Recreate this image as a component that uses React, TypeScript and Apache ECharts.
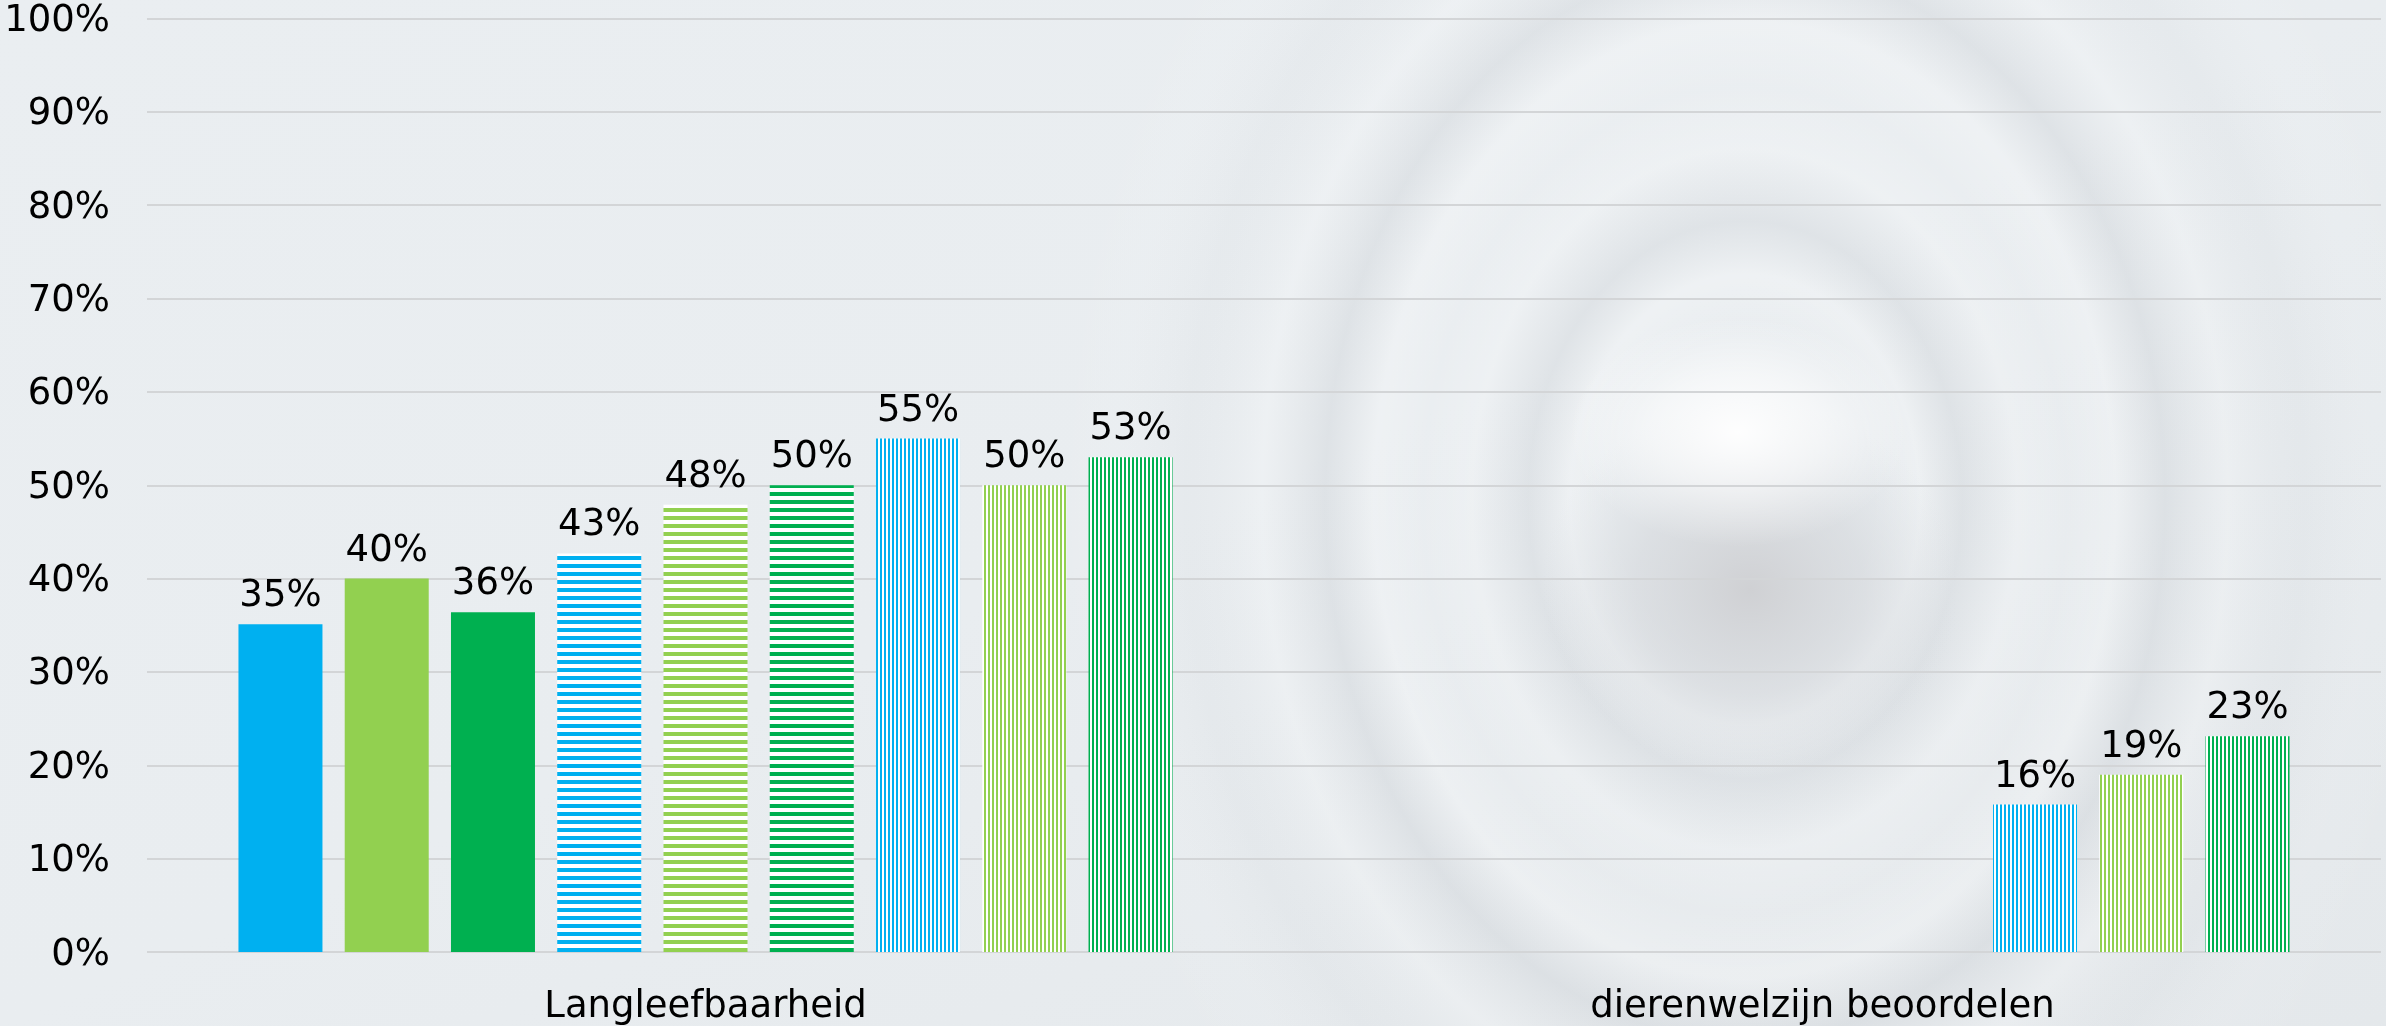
import React, { useEffect, useRef } from 'react';
import * as echarts from 'echarts';

const categories = ['Langleefbaarheid', 'dierenwelzijn beoordelen'];
const yTicks = [0, 10, 20, 30, 40, 50, 60, 70, 80, 90, 100];

const solidBlue = [35.1, null];
const solidLightGreen = [40.0, null];
const solidDarkGreen = [36.4, null];
const hStripeBlue = [42.7, null];
const hStripeLightGreen = [47.9, null];
const hStripeDarkGreen = [50.0, null];
const vStripeBlue = [55.0, 15.8];
const vStripeLightGreen = [50.0, 19.0];
const vStripeDarkGreen = [53.0, 23.1];

const BLUE = '#00B0F0';
const LIGHT_GREEN = '#92D050';
const DARK_GREEN = '#00B050';
const FONT = 'DejaVu Sans';

function hPattern(color: string) {
  const c = document.createElement('canvas');
  c.width = 4;
  c.height = 8;
  const ctx = c.getContext('2d')!;
  ctx.fillStyle = '#ffffff';
  ctx.fillRect(0, 0, 4, 8);
  ctx.fillStyle = color;
  ctx.fillRect(0, 4, 4, 4);
  return { image: c, repeat: 'repeat', imageWidth: 4, imageHeight: 8 };
}

function vPattern(color: string) {
  const c = document.createElement('canvas');
  c.width = 4;
  c.height = 4;
  const ctx = c.getContext('2d')!;
  ctx.fillStyle = '#ffffff';
  ctx.fillRect(0, 0, 4, 4);
  ctx.fillStyle = color;
  ctx.fillRect(0, 0, 2, 4);
  return { image: c, repeat: 'repeat', imageWidth: 4, imageHeight: 4 };
}

export default function App() {
  const ref = useRef<HTMLDivElement>(null);
  useEffect(() => {
    const el = ref.current!;
    const chart = echarts.init(el, null, { renderer: 'svg' });

    const mk = (name: string, data: (number | null)[], color: any) => ({
      name,
      type: 'bar',
      data,
      barWidth: 84,
      barGap: '26.5%',
      itemStyle: { color },
      label: {
        show: true,
        position: 'top',
        distance: 12,
        fontFamily: FONT,
        fontSize: 37,
        color: '#000',
        formatter: (p: any) => (p.value == null ? '' : Math.round(p.value) + '%'),
      },
    });

    const ringStops = [
      { offset: 0, color: 'rgba(255,255,255,0)' },
      { offset: 0.18, color: 'rgba(255,255,255,0)' },
      { offset: 0.25, color: 'rgba(255,255,255,0.25)' },
      { offset: 0.31, color: 'rgba(188,193,199,0.22)' },
      { offset: 0.39, color: 'rgba(255,255,255,0.22)' },
      { offset: 0.46, color: 'rgba(255,255,255,0.06)' },
      { offset: 0.53, color: 'rgba(255,255,255,0.25)' },
      { offset: 0.6, color: 'rgba(188,193,199,0.24)' },
      { offset: 0.69, color: 'rgba(255,255,255,0.2)' },
      { offset: 0.8, color: 'rgba(200,205,210,0.1)' },
      { offset: 0.9, color: 'rgba(255,255,255,0.06)' },
      { offset: 1, color: 'rgba(255,255,255,0)' },
    ];

    chart.setOption({
      animation: false,
      graphic: {
        elements: [
          {
            type: 'rect',
            z: -10,
            silent: true,
            shape: { x: 0, y: 0, width: 2386, height: 1026 },
            style: {
              fill: {
                type: 'linear',
                x: 0,
                y: 0,
                x2: 1,
                y2: 1,
                colorStops: [
                  { offset: 0, color: '#eaeef1' },
                  { offset: 0.5, color: '#e9edf0' },
                  { offset: 1, color: '#e4e8eb' },
                ],
              },
            },
          },
          {
            type: 'ellipse',
            z: -9,
            silent: true,
            shape: { cx: 1745, cy: 500, rx: 700, ry: 900 },
            style: {
              fill: { type: 'radial', x: 0.5, y: 0.5, r: 0.5, colorStops: ringStops },
            },
          },
          {
            type: 'ellipse',
            z: -8,
            silent: true,
            shape: { cx: 1750, cy: 590, rx: 210, ry: 190 },
            style: {
              fill: {
                type: 'radial',
                x: 0.5,
                y: 0.5,
                r: 0.5,
                colorStops: [
                  { offset: 0, color: 'rgba(206,207,210,0.95)' },
                  { offset: 0.55, color: 'rgba(212,215,219,0.6)' },
                  { offset: 1, color: 'rgba(220,224,228,0)' },
                ],
              },
            },
          },
          {
            type: 'ellipse',
            z: -7,
            silent: true,
            shape: { cx: 1738, cy: 432, rx: 170, ry: 115 },
            style: {
              fill: {
                type: 'radial',
                x: 0.5,
                y: 0.5,
                r: 0.5,
                colorStops: [
                  { offset: 0, color: 'rgba(255,255,255,0.95)' },
                  { offset: 0.5, color: 'rgba(255,255,255,0.55)' },
                  { offset: 1, color: 'rgba(255,255,255,0)' },
                ],
              },
            },
          },
        ],
      },
      grid: { left: 147, right: 5, top: 18, bottom: 74, containLabel: false },
      xAxis: {
        type: 'category',
        data: categories,
        axisLine: { show: false },
        axisTick: { show: false },
        axisLabel: { fontFamily: FONT, fontSize: 37, color: '#000', margin: 34 },
      },
      yAxis: {
        type: 'value',
        min: yTicks[0],
        max: yTicks[yTicks.length - 1],
        interval: 10,
        axisLine: { show: false },
        axisTick: { show: false },
        axisLabel: {
          fontFamily: FONT,
          fontSize: 37,
          lineHeight: 30,
          color: '#000',
          margin: 37,
          formatter: '{value}%',
        },
        splitLine: { lineStyle: { color: '#d3d5d7', width: 2 } },
      },
      series: [
        mk('Serie 1', solidBlue, BLUE),
        mk('Serie 2', solidLightGreen, LIGHT_GREEN),
        mk('Serie 3', solidDarkGreen, DARK_GREEN),
        mk('Serie 4', hStripeBlue, hPattern(BLUE)),
        mk('Serie 5', hStripeLightGreen, hPattern(LIGHT_GREEN)),
        mk('Serie 6', hStripeDarkGreen, hPattern(DARK_GREEN)),
        mk('Serie 7', vStripeBlue, vPattern(BLUE)),
        mk('Serie 8', vStripeLightGreen, vPattern(LIGHT_GREEN)),
        mk('Serie 9', vStripeDarkGreen, vPattern(DARK_GREEN)),
      ],
    });
    return () => chart.dispose();
  }, []);
  return (
    <div
      ref={ref}
      style={{ position: 'fixed', left: 0, top: 0, width: 2386, height: 1026 }}
    />
  );
}
